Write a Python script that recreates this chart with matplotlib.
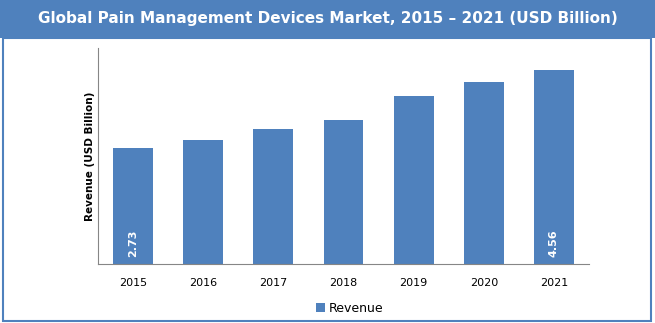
import matplotlib.pyplot as plt
from matplotlib.patches import Rectangle

# revenue by year, USD billion
years = ['2015', '2016', '2017', '2018', '2019', '2020', '2021']
revenue = [2.73, 2.92, 3.17, 3.38, 3.95, 4.28, 4.56]
labelled = {0: '2.73', 6: '4.56'}

blue = '#4F81BD'
W, H = 655, 323

fig = plt.figure(figsize=(W / 100, H / 100), dpi=100)

# outer frame and title band
fig.patches.append(Rectangle((3 / W, 2 / H), 648 / W, 283 / H, transform=fig.transFigure,
                             fill=False, edgecolor=blue, linewidth=1.5))
fig.patches.append(Rectangle((0, 285 / H), 1, 38 / H, transform=fig.transFigure,
                             facecolor=blue, edgecolor='none'))
fig.text(0.5, 304 / H, 'Global Pain Management Devices Market, 2015 \u2013 2021 (USD Billion)',
         color='white', fontsize=11, fontweight='bold', ha='center', va='center')

ax = fig.add_axes([98 / W, 59 / H, 491 / W, 216 / H])
x = range(len(years))
bars = ax.bar(x, revenue, width=0.57, color=blue, label='Revenue')
ax.set_xlim(-0.5, len(years) - 0.5)
ax.set_ylim(0, 5.08)
ax.set_xticks(list(x))
ax.set_xticklabels(years, fontsize=8)
ax.set_yticks([])
ax.tick_params(axis='x', length=0, pad=10)
for s in ['top', 'right']:
    ax.spines[s].set_visible(False)
for s in ['left', 'bottom']:
    ax.spines[s].set_color('#868686')

for i, txt in labelled.items():
    ax.text(i, 0.17, txt, rotation=90, color='white', fontsize=8, fontweight='bold',
            ha='center', va='bottom')

fig.text(90 / W, 1 - 156 / H, 'Revenue (USD Billion)', rotation=90, fontsize=7.5,
         fontweight='bold', ha='center', va='center')

fig.legend(handles=[bars], labels=['Revenue'], loc='center', bbox_to_anchor=(350 / W, 1 - 308 / H),
           frameon=False, fontsize=9, handlelength=0.7, handleheight=0.7, handletextpad=0.3)

fig.savefig('out.png', dpi=100)
